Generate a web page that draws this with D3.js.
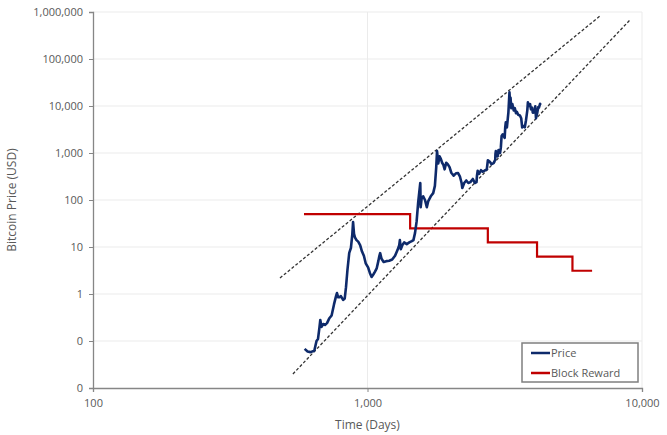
<!DOCTYPE html>
<html>
<head>
<meta charset="utf-8">
<script src="https://cdn.jsdelivr.net/npm/d3@7"></script>
<style>
  body { margin: 0; background: #fff; }
  svg { font-family: "Open Sans", sans-serif; }
</style>
</head>
<body>
<svg id="chart" width="667" height="435"></svg>
<script>
// days since genesis block / price in USD
const priceDays = [590, 605, 620, 640, 652, 660, 668, 673, 680, 690, 700, 712, 725, 740, 755, 768, 774, 782, 790, 800, 815, 826, 835, 845, 858, 870, 880, 886, 893, 900, 912, 925, 940, 955, 970, 985, 1005, 1020, 1035, 1050, 1065, 1080, 1095, 1105, 1112, 1125, 1145, 1170, 1200, 1230, 1260, 1285, 1305, 1312, 1322, 1340, 1360, 1390, 1420, 1450, 1470, 1490, 1510, 1530, 1557, 1562, 1575, 1595, 1620, 1645, 1665, 1700, 1735, 1760, 1780, 1792, 1810, 1830, 1850, 1870, 1890, 1910, 1935, 1960, 1990, 2020, 2060, 2100, 2138, 2170, 2202, 2215, 2250, 2290, 2330, 2370, 2420, 2460, 2495, 2505, 2520, 2550, 2590, 2630, 2670, 2720, 2745, 2790, 2830, 2880, 2920, 2925, 2935, 2980, 3000, 3040, 3060, 3080, 3110, 3120, 3160, 3175, 3190, 3220, 3245, 3260, 3270, 3290, 3300, 3320, 3340, 3370, 3410, 3440, 3475, 3500, 3540, 3590, 3630, 3660, 3690, 3740, 3780, 3820, 3840, 3870, 3910, 3940, 3980, 4000, 4060, 4085, 4110, 4150, 4190, 4215, 4250, 4285];
const priceUsd = [0.068, 0.06, 0.058, 0.062, 0.1, 0.11, 0.19, 0.28, 0.2, 0.23, 0.22, 0.24, 0.3, 0.35, 0.6, 0.9, 1.05, 0.85, 0.85, 0.9, 0.75, 0.8, 1.4, 3.2, 7.5, 9.5, 18, 34, 19, 16, 14, 13, 11, 8, 6.5, 4.5, 3.7, 2.8, 2.3, 2.6, 3.0, 3.5, 5.0, 6.5, 7.4, 5.6, 4.8, 5.0, 5.1, 5.4, 6.5, 8.5, 11, 14, 9, 11, 12.5, 11.5, 12.5, 13.3, 14, 20, 35, 90, 230, 70, 110, 120, 100, 70, 95, 120, 140, 200, 500, 1100, 600, 850, 750, 620, 560, 450, 620, 580, 500, 380, 330, 370, 375, 320, 230, 180, 230, 260, 230, 240, 280, 230, 240, 330, 420, 360, 430, 400, 420, 450, 700, 650, 580, 610, 720, 960, 1100, 850, 1150, 1000, 1300, 2300, 2500, 2400, 2100, 3500, 4500, 3500, 5500, 7200, 10000, 19500, 14000, 15000, 9000, 11000, 8000, 9000, 7000, 7500, 6500, 6300, 5500, 3500, 3800, 3500, 5000, 8000, 12000, 10000, 11000, 8500, 9200, 7200, 7400, 9800, 5500, 7000, 9500, 9300, 11000, 11500, 12000];

// block reward per halving era (last day repeats final value)
const rewardDays = [587, 1430, 2744, 4146, 5580, 6580];
const rewardBtc = [50, 25, 12.5, 6.25, 3.125, 3.125];

// channel lines
const bandDays = [[480, 7030], [535, 9040]];
const bandUsd = [[2.19, 822000], [0.0199, 677000]];

const yTicks = [0.01, 0.1, 1, 10, 100, 1000, 10000, 100000, 1000000];
const xTicks = [100, 1000, 10000];

const svg = d3.select("#chart");
const margin = {top: 12, right: 25, bottom: 47, left: 93};
const width = +svg.attr("width") - margin.left - margin.right;
const height = +svg.attr("height") - margin.top - margin.bottom;

const x = d3.scaleLog().domain([100, 10000]).range([0, width]);
const y = d3.scaleLog().domain([0.01, 1000000]).range([height, 0]);

const g = svg.append("g")
    .attr("transform", "translate(" + margin.left + "," + margin.top + ")");

// gridlines
g.append("g")
    .selectAll("line")
    .data(yTicks.slice(1))
  .enter().append("line")
    .attr("x1", 0).attr("x2", width)
    .attr("y1", d => y(d)).attr("y2", d => y(d))
    .attr("stroke", "#ebebeb");
g.append("g")
    .selectAll("line")
    .data(xTicks.slice(1))
  .enter().append("line")
    .attr("x1", d => x(d)).attr("x2", d => x(d))
    .attr("y1", 0).attr("y2", height)
    .attr("stroke", "#ebebeb");

const fmt = d3.format(",.0f");

const yAxis = g.append("g")
    .call(d3.axisLeft(y).tickValues(yTicks).tickFormat(fmt).tickSize(4).tickPadding(6));
const xAxis = g.append("g")
    .attr("transform", "translate(0," + height + ")")
    .call(d3.axisBottom(x).tickValues(xTicks).tickFormat(fmt).tickSize(4).tickPadding(7));

[yAxis, xAxis].forEach(a => {
  a.select(".domain").attr("stroke", "#868686").attr("stroke-width", 1.3);
  a.selectAll(".tick line").attr("stroke", "#868686");
  a.selectAll(".tick text").attr("fill", "#595959").style("font-size", "11px")
    .style("font-family", "Open Sans, sans-serif");
});

// band lines
const line = d3.line().x(d => x(d[0])).y(d => y(d[1]));
bandDays.forEach((days, i) => {
  g.append("path")
      .datum(days.map((d, j) => [d, bandUsd[i][j]]))
      .attr("d", line)
      .attr("fill", "none")
      .attr("stroke", "#333")
      .attr("stroke-width", 1.3)
      .attr("stroke-dasharray", "3,2");
});

// block reward
g.append("path")
    .datum(rewardDays.map((d, i) => [d, rewardBtc[i]]))
    .attr("d", d3.line().x(d => x(d[0])).y(d => y(d[1])).curve(d3.curveStepAfter))
    .attr("fill", "none")
    .attr("stroke", "#c00000")
    .attr("stroke-width", 2.2);

// price
g.append("path")
    .datum(priceDays.map((d, i) => [d, priceUsd[i]]))
    .attr("d", line)
    .attr("fill", "none")
    .attr("stroke", "#0e2a6b")
    .attr("stroke-width", 2.6)
    .attr("stroke-linejoin", "round");

// axis titles
svg.append("text")
    .attr("x", margin.left + x(1000))
    .attr("y", 429)
    .attr("text-anchor", "middle")
    .attr("fill", "#595959")
    .style("font-size", "12px")
    .text("Time (Days)");
svg.append("text")
    .attr("transform", "translate(16," + (margin.top + height / 2) + ") rotate(-90)")
    .attr("text-anchor", "middle")
    .attr("fill", "#595959")
    .style("font-size", "12px")
    .text("Bitcoin Price (USD)");

// legend
const legend = svg.append("g").attr("transform", "translate(522,343)");
legend.append("rect")
    .attr("width", 116).attr("height", 39)
    .attr("fill", "#fff")
    .attr("stroke", "#7f7f7f")
    .attr("stroke-width", 1.5);
const items = [{name: "Price", color: "#0e2a6b"}, {name: "Block Reward", color: "#c00000"}];
items.forEach((it, i) => {
  const ly = 10 + i * 20;
  legend.append("line")
      .attr("x1", 9).attr("x2", 28)
      .attr("y1", ly).attr("y2", ly)
      .attr("stroke", it.color)
      .attr("stroke-width", 2.5);
  legend.append("text")
      .attr("x", 29).attr("y", ly + 4)
      .attr("fill", "#595959")
      .style("font-size", "11px")
      .text(it.name);
});
</script>
</body>
</html>
